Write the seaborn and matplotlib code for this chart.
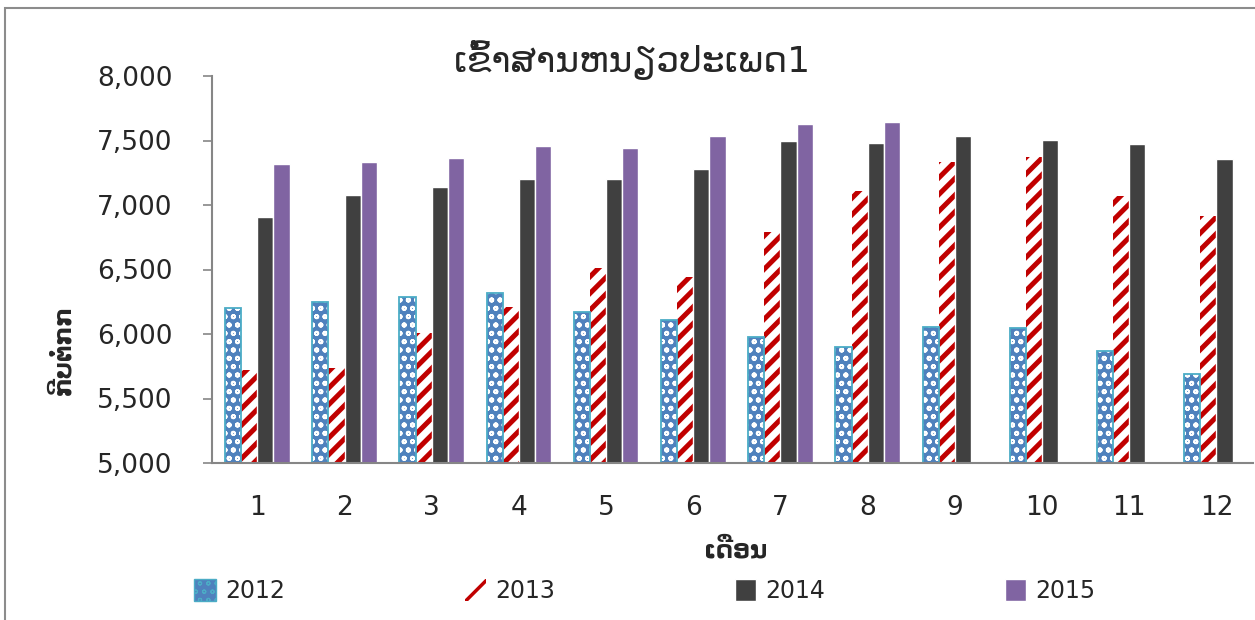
import pandas as pd
import seaborn as sns
import matplotlib.pyplot as plt
import matplotlib.patches as mpatches
from matplotlib.ticker import FuncFormatter

# ======================
# DATOS
# ======================
months = [str(m) for m in range(1, 13)]
years = ["2012", "2013", "2014", "2015"]

v2012 = [6200, 6250, 6290, 6320, 6170, 6110, 5975, 5900, 6055, 6045, 5870, 5690]
v2013 = [5720, 5740, 6010, 6210, 6510, 6440, 6790, 7110, 7330, 7370, 7070, 6915]
v2014 = [6905, 7080, 7140, 7200, 7200, 7280, 7495, 7480, 7535, 7505, 7475, 7360]
v2015 = [7320, 7335, 7365, 7460, 7445, 7535, 7630, 7645]

title_txt = "ເຂົ້າສານຫນຽວປະເພດ1"
ylabel_txt = "ກີບຕໍ່ກກ"
xlabel_txt = "ເດືອນ"

rows = []
for year, vals in zip(years, [v2012, v2013, v2014, v2015]):
    for m, v in zip(months, vals):
        rows.append({"mes": m, "anio": year, "valor": v})
df = pd.DataFrame(rows)

# estilo de cada serie: (facecolor, edgecolor/hatch color, hatch, hatch lw)
styles = {
    "2012": ("#4F81BD", "white", "oo", 1.3),
    "2013": ("white", "#C00000", "//", 3.6),
    "2014": ("#404040", "white", None, 1.0),
    "2015": ("#8064A2", "white", None, 1.0),
}
borde_2012 = "#4BACC6"

# ======================
# GRAFICO
# ======================
sns.set_style("white")
plt.rcParams["font.family"] = ["DejaVu Sans"]
plt.rcParams["hatch.linewidth"] = 3.6

fig = plt.figure(figsize=(12.55, 6.2), dpi=100)
ax = fig.add_axes([212 / 1255, 157 / 620, 1041 / 1255, 387 / 620])

sns.barplot(
    data=df, x="mes", y="valor", hue="anio",
    order=months, hue_order=years,
    width=0.74, ax=ax, legend=False, errorbar=None,
)


def style_patch(p, year):
    fc, ec, hatch, hlw = styles[year]
    p.set_facecolor(fc)
    p.set_edgecolor(ec)
    if hatch:
        p.set_hatch(hatch)
        p.set_linewidth(0)
        if hasattr(p, "set_hatch_linewidth"):
            p.set_hatch_linewidth(hlw)
    else:
        p.set_linewidth(1.0)


for year, cont in zip(years, ax.containers):
    for p in cont:
        style_patch(p, year)
        if year == "2012":
            # contorno celeste de las barras punteadas
            ax.add_patch(mpatches.Rectangle((p.get_x(), p.get_y()), p.get_width(),
                                            p.get_height(), fill=False,
                                            edgecolor=borde_2012, linewidth=1.3))

ax.set_ylim(5000, 8000)
ax.set_yticks(range(5000, 8001, 500))
ax.yaxis.set_major_formatter(FuncFormatter(lambda v, _: f"{v:,.0f}"))
ax.set_xlim(-0.52, 11.42)

ax.tick_params(axis="x", length=0, pad=23, labelsize=19)
ax.tick_params(axis="y", length=6.5, width=1.2, color="#868686", pad=22,
               labelsize=19, left=True)
for s in ["top", "right"]:
    ax.spines[s].set_visible(False)
for s in ["left", "bottom"]:
    ax.spines[s].set_color("#868686")
    ax.spines[s].set_linewidth(1.5)

ax.set_xlabel("")
ax.set_ylabel("")

fig.text(0.504, 0.903, title_txt, fontsize=26, ha="center", va="center")
fig.text(0.05, 0.435, ylabel_txt, fontsize=17, fontweight="bold",
         rotation=90, ha="center", va="center")
fig.text(0.586, 0.113, xlabel_txt, fontsize=17, fontweight="bold",
         ha="center", va="center")

# leyenda
handles = []
for year in years:
    fc, ec, hatch, hlw = styles[year]
    if year == "2012":
        ec = borde_2012
    handles.append(mpatches.Patch(facecolor=fc, edgecolor=ec, hatch=hatch, label=year,
                                  linewidth=1.0))

leg = fig.legend(handles=handles, loc="lower left", ncol=4, mode="expand",
                 bbox_to_anchor=(185 / 1255, 0.012, 920 / 1255, 0.07),
                 frameon=False, fontsize=17, handlelength=0.9, handleheight=1.1,
                 handletextpad=0.4, borderaxespad=0)
for year, h in zip(years, leg.legend_handles):
    if hasattr(h, "set_hatch_linewidth"):
        h.set_hatch_linewidth(0.8 if year == "2012" else 2.5)
    if year == "2013":
        h.set_hatch("/")
        h.set_linewidth(0)

# marco de la figura
fig.patches.append(mpatches.Rectangle((5 / 1255, -0.1), 1.2, 1.1 - 8 / 620,
                                      transform=fig.transFigure, fill=False,
                                      edgecolor="#8C8C8C", linewidth=1.5))

plt.savefig("out.png", dpi=100)
